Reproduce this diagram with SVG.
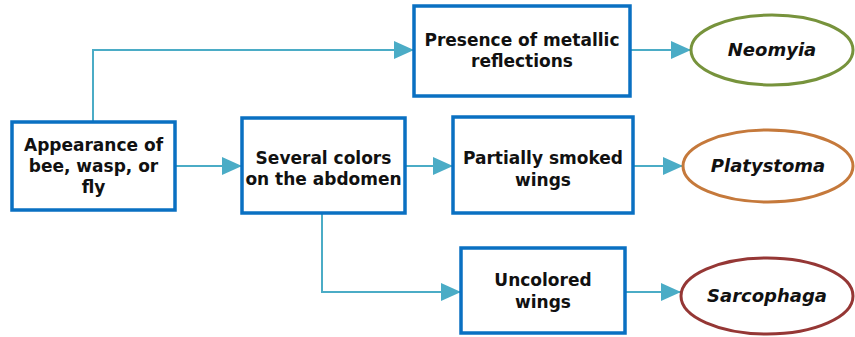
<svg xmlns="http://www.w3.org/2000/svg" width="855" height="337" viewBox="0 0 855 337">
<defs>
<style>
.box{fill:#fff;stroke:#0a70c2;stroke-width:3.5}
.t{font-family:"DejaVu Sans",Verdana,sans-serif;font-weight:bold;font-size:17px;fill:#111;text-anchor:middle}
.ti{font-style:italic;font-size:18px}
.c{fill:none;stroke:#4bacc6;stroke-width:2}
</style>
<marker id="ah" markerWidth="20" markerHeight="18" refX="20" refY="9" orient="auto" markerUnits="userSpaceOnUse">
<path d="M0,0 L20,9 L0,18 Z" fill="#4bacc6"/>
</marker>
</defs>
<rect width="855" height="337" fill="#fff"/>
<g id="connectors">
<path class="c" d="M93,122 V50 H414" marker-end="url(#ah)"/>
<path class="c" d="M175,166 H242" marker-end="url(#ah)"/>
<path class="c" d="M405,166 H453" marker-end="url(#ah)"/>
<path class="c" d="M630,50 H691" marker-end="url(#ah)"/>
<path class="c" d="M633,166 H683" marker-end="url(#ah)"/>
<path class="c" d="M322,213 V292 H461" marker-end="url(#ah)"/>
<path class="c" d="M625,292 H681" marker-end="url(#ah)"/>
</g>
<g id="appearance">
<rect class="box" x="12" y="122" width="163" height="88"/>
<text class="t" x="93.5" y="151">Appearance of</text>
<text class="t" x="93.5" y="172">bee, wasp, or</text>
<text class="t" x="93.5" y="193">fly</text>
</g>
<g id="several">
<rect class="box" x="242" y="118" width="163" height="95"/>
<text class="t" x="323.5" y="164">Several colors</text>
<text class="t" x="323.5" y="185">on the abdomen</text>
</g>
<g id="presence">
<rect class="box" x="414" y="6" width="216" height="90"/>
<text class="t" x="522" y="46">Presence of metallic</text>
<text class="t" x="522" y="67">reflections</text>
</g>
<g id="partially">
<rect class="box" x="453" y="117" width="180" height="96"/>
<text class="t" x="543" y="164">Partially smoked</text>
<text class="t" x="543" y="186">wings</text>
</g>
<g id="uncolored">
<rect class="box" x="461" y="248" width="164" height="85"/>
<text class="t" x="543" y="286">Uncolored</text>
<text class="t" x="543" y="308">wings</text>
</g>
<g id="neomyia">
<ellipse cx="772" cy="50" rx="81" ry="35" fill="#fff" stroke="#77933c" stroke-width="3"/>
<text class="t ti" x="772" y="56">Neomyia</text>
</g>
<g id="platystoma">
<ellipse cx="768" cy="166" rx="85" ry="36" fill="#fff" stroke="#c5793b" stroke-width="3"/>
<text class="t ti" x="768" y="172">Platystoma</text>
</g>
<g id="sarcophaga">
<ellipse cx="767" cy="296" rx="86" ry="38" fill="#fff" stroke="#953735" stroke-width="3"/>
<text class="t ti" x="767" y="302">Sarcophaga</text>
</g>
</svg>
